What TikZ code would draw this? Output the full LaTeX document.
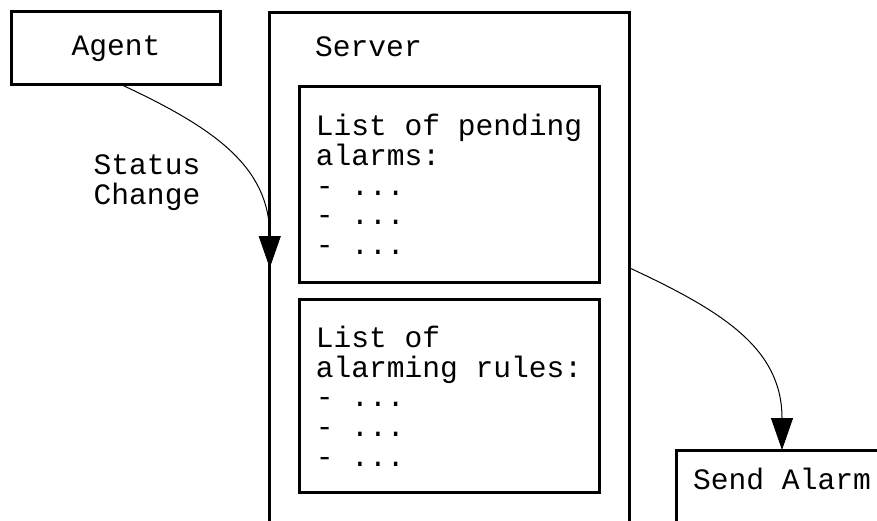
\documentclass[tikz,border=0pt]{standalone}
\usepackage{fontspec}
\setmainfont{Liberation Mono}
\usetikzlibrary{arrows.meta}
\newcommand{\diagfont}{\fontsize{29.6pt}{29.7pt}\selectfont}

\begin{document}
\begin{tikzpicture}[
  x=1pt, y=1pt,
  >={Triangle[length=32pt, width=22pt]},
  txt/.style={font=\diagfont},
  box/.style={draw, line width=3pt, outer sep=0pt, txt},
  listbox/.style={box, minimum width=300pt, minimum height=#1, text width=268pt,
    align=left, inner xsep=16pt, execute at begin node={\spaceskip=17.76pt\relax}},
  arr/.style={->, line width=1pt},
]

\useasboundingbox (0,0) rectangle (877,520);

% =============================================
% Agent
% =============================================
\node[box, minimum width=209pt, minimum height=73pt, inner sep=0pt] (agent) at (116,471.5)
  {Agent};

% =============================================
% Server with its two lists
% =============================================
\node[box, minimum width=360pt, minimum height=511pt] (server) at (449.75,252) {};
\node[txt, anchor=base west, inner sep=0pt] (srvtitle) at (315,463) {Server};

\node[listbox=195pt] (pending) at (449.75,335.5)
  {List of pending\\alarms:\\- ...\\- ...\\- ...};
\node[listbox=193pt] (rules) at (449.75,124)
  {List of\\alarming rules:\\- ...\\- ...\\- ...};

% =============================================
% Send alarm
% =============================================
\node[box, anchor=north, minimum width=212pt, inner ysep=0pt,
  text height=39.5pt, text depth=50pt] (send) at (782,70)
  {Send Alarm};

% Connectors
\draw[arr] ([xshift=6pt]agent.south) to[out=-25, in=90, looseness=1.1] (server.west);
\node[txt, align=center] (statuslbl) at (147,337) {Status\\Change};

\draw[arr] (server.east) to[out=-25, in=90, looseness=1.1] (send.north);

\end{tikzpicture}
\end{document}
